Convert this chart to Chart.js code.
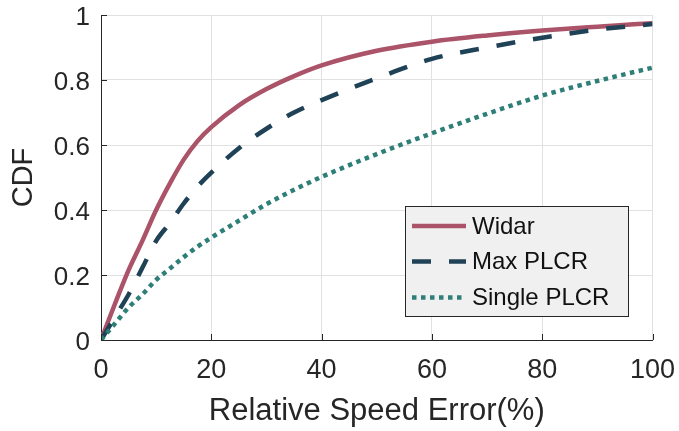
<!DOCTYPE html>
<html>
<head>
<meta charset="utf-8">
<script src="https://cdn.jsdelivr.net/npm/chart.js@4.4.0/dist/chart.umd.min.js"></script>
<style>
  html, body { margin: 0; padding: 0; background: #ffffff; }
  #wrap { width: 679px; height: 431px; }
</style>
</head>
<body>
<div id="wrap"><canvas id="cdf"></canvas></div>
<script>
// Relative speed error (%) sample positions
const errorPct = [0, 2.5, 5, 7.5, 10, 12.5, 15, 17.5, 20, 25, 30, 35, 40, 50, 60, 70, 80, 90, 100];

// CDF of each method at those errors
const widar      = [0, 0.11, 0.215, 0.305, 0.4, 0.482, 0.555, 0.612, 0.655, 0.722, 0.772, 0.812, 0.845, 0.89, 0.918, 0.937, 0.952, 0.964, 0.975];
const maxPlcr    = [0, 0.07, 0.14, 0.222, 0.305, 0.36, 0.42, 0.472, 0.515, 0.59, 0.65, 0.7, 0.738, 0.805, 0.865, 0.9, 0.93, 0.955, 0.972];
const singlePlcr = [0, 0.05, 0.1, 0.14, 0.185, 0.22, 0.255, 0.287, 0.315, 0.367, 0.418, 0.462, 0.502, 0.572, 0.636, 0.696, 0.752, 0.797, 0.838];

const seriesNames = ['Widar', 'Max PLCR', 'Single PLCR'];
const xTicks = [0, 20, 40, 60, 80, 100];
const yTicks = [0, 0.2, 0.4, 0.6, 0.8, 1];

const FONT = "'Liberation Sans', Arial, Helvetica, sans-serif";
const INK = '#262626';

const toPoints = (ys) => errorPct.map((x, i) => ({ x, y: ys[i] }));

// Inward tick marks on the left and bottom axes
const innerTicks = {
  id: 'innerTicks',
  afterDraw(chart) {
    const { ctx, chartArea: a, scales: { x, y } } = chart;
    ctx.save();
    ctx.strokeStyle = INK;
    ctx.lineWidth = 1;
    ctx.beginPath();
    xTicks.forEach(v => {
      const px = Math.round(x.getPixelForValue(v)) + 0.5;
      ctx.moveTo(px, a.bottom);
      ctx.lineTo(px, a.bottom - 6);
    });
    yTicks.forEach(v => {
      const py = Math.round(y.getPixelForValue(v)) + 0.5;
      ctx.moveTo(a.left, py);
      ctx.lineTo(a.left + 6, py);
    });
    ctx.stroke();
    ctx.restore();
  }
};

// Boxed legend in the lower right of the plot
const boxLegend = {
  id: 'boxLegend',
  afterDraw(chart) {
    const { ctx } = chart;
    const bx = 405.5, by = 206.5, bw = 223, bh = 110;
    ctx.save();
    ctx.fillStyle = '#f0f0f0';
    ctx.fillRect(bx, by, bw, bh);
    ctx.strokeStyle = INK;
    ctx.lineWidth = 1;
    ctx.strokeRect(bx, by, bw, bh);
    const rows = [226, 261.5, 297.5];
    chart.data.datasets.forEach((ds, i) => {
      const yy = rows[i];
      ctx.beginPath();
      ctx.strokeStyle = ds.borderColor;
      ctx.lineWidth = ds.borderWidth;
      ctx.lineCap = 'butt';
      ctx.setLineDash(ds.borderDash || []);
      ctx.moveTo(412, yy);
      ctx.lineTo(466, yy);
      ctx.stroke();
      ctx.setLineDash([]);
      ctx.fillStyle = '#111111';
      ctx.font = '24px ' + FONT;
      ctx.textAlign = 'left';
      ctx.textBaseline = 'middle';
      ctx.fillText(ds.label, 472, yy + 1);
    });
    ctx.restore();
  }
};

new Chart(document.getElementById('cdf'), {
  type: 'line',
  data: {
    datasets: [
      { label: seriesNames[0], data: toPoints(widar), borderColor: '#ab5469', borderWidth: 4.5, borderDash: [], order: 2 },
      { label: seriesNames[1], data: toPoints(maxPlcr), borderColor: '#1f4257', borderWidth: 4.5, borderDash: [19, 18], order: 1 },
      { label: seriesNames[2], data: toPoints(singlePlcr), borderColor: '#2f7f79', borderWidth: 4.5, borderDash: [4.5, 4.5], order: 0 }
    ]
  },
  options: {
    responsive: true,
    maintainAspectRatio: false,
    animation: false,
    events: [],
    layout: { padding: { left: 0, top: 15, right: 26.5, bottom: 0 } },
    elements: {
      point: { radius: 0 },
      line: { cubicInterpolationMode: 'monotone', borderCapStyle: 'butt', fill: false }
    },
    plugins: {
      legend: { display: false },
      tooltip: { enabled: false }
    },
    scales: {
      x: {
        type: 'linear',
        min: 0, max: 100,
        afterBuildTicks: (s) => { s.ticks = xTicks.map(v => ({ value: v })); },
        afterFit: (s) => { s.height = 91; s.paddingLeft = 0; s.paddingRight = 0; },
        grid: { color: '#e1e1e1', lineWidth: 1, drawTicks: false },
        border: { color: INK, width: 1 },
        ticks: {
          color: INK, padding: 17, maxRotation: 0,
          font: { family: FONT, size: 27, lineHeight: 1 }
        },
        title: {
          display: true, text: 'Relative Speed Error(%)', color: INK,
          font: { family: FONT, size: 31, lineHeight: 1.2 },
          padding: { top: 0, bottom: 1 }
        }
      },
      y: {
        type: 'linear',
        min: 0, max: 1,
        afterBuildTicks: (s) => { s.ticks = yTicks.map(v => ({ value: v })); },
        afterFit: (s) => { s.width = 101; s.paddingTop = 0; s.paddingBottom = 0; },
        grid: { color: '#e1e1e1', lineWidth: 1, drawTicks: false },
        border: { color: INK, width: 1 },
        ticks: {
          color: INK, padding: 11, labelOffset: 2.5,
          font: { family: FONT, size: 26, lineHeight: 1 },
          callback: (v) => String(v)
        },
        title: {
          display: true, text: 'CDF', color: INK,
          font: { family: FONT, size: 29, lineHeight: 1.2 },
          padding: { top: 7, bottom: 0 }
        }
      }
    }
  },
  plugins: [innerTicks, boxLegend]
});
</script>
</body>
</html>
